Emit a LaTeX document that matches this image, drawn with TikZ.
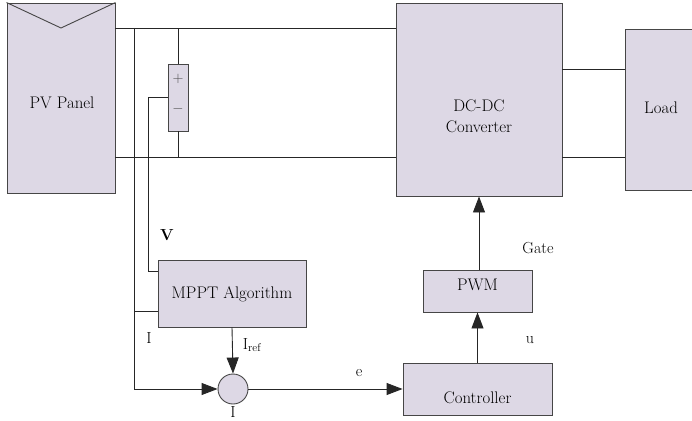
\documentclass[tikz,border=0pt]{standalone}
\usetikzlibrary{arrows.meta}
\definecolor{lila}{RGB}{221,216,229}
\definecolor{borde}{RGB}{70,70,70}
\begin{document}
\begin{tikzpicture}[
  x=1pt, y=-1pt,
  bloque/.style={draw=borde, fill=lila, line width=0.9pt, inner sep=0pt},
  texto/.style={font=\fontsize{16.8}{21}\selectfont, inner sep=0pt, align=center},
  etiq/.style={font=\fontsize{16}{19}\selectfont, inner sep=0pt},
  cable/.style={draw=black!85, line width=0.9pt},
  flecha/.style={cable, -{Triangle[length=16pt,width=12pt]}}
]
\useasboundingbox (0,0) rectangle (692,420);
% bloques
\node[bloque, minimum width=108, minimum height=190] (pv) at (61,98) {};
\node[bloque, minimum width=20, minimum height=67] (sens) at (178,97.5) {};
\node[bloque, minimum width=166, minimum height=193] (dc) at (479,99.5) {};
\node[bloque, minimum width=70, minimum height=161] (load) at (660,109.5) {};
\node[bloque, minimum width=148, minimum height=67] (mppt) at (232,293.5) {};
\node[bloque, minimum width=109, minimum height=42] (pwm) at (477.5,291) {};
\node[bloque, minimum width=149, minimum height=52] (ctrl) at (477.5,389) {};
\node[bloque, circle, minimum size=30] (sum) at (233,389) {};
% textos
\node[texto] (pvtxt) at (62,103) {PV Panel};
\node[texto] (dctxt) at (479,116) {DC-DC\\Converter};
\node[texto] (loadtxt) at (661,108) {Load};
\node[texto] (mppttxt) at (232,294) {MPPT Algorithm};
\node[texto] (pwmtxt) at (477.5,285) {PWM};
\node[texto] (ctrltxt) at (477.5,398) {Controller};
\node[font=\fontsize{14}{16}\selectfont, text=black!70, inner sep=0pt] (mas) at (178,79) {$+$};
\node[font=\fontsize{14}{16}\selectfont, text=black!70, inner sep=0pt] (menos) at (178,109) {$-$};
% panel
\coordinate (tip) at (61,28);
\coordinate (abajo) at (0,157);
\coordinate (nodoI) at (134,28);
\draw[borde, line width=0.9pt] (pv.north west) -- (tip) -- (pv.north east);
% cables
\draw[cable] (pv.east |- tip) -- (dc.west |- tip);
\draw[cable] (pv.east |- abajo) -- (dc.west |- abajo);
\draw[cable] (sens.north) -- (sens.north |- tip);
\draw[cable] (sens.south) -- (sens.south |- abajo);
\draw[cable] (dc.east |- 0,69) -- (load.west |- 0,69);
\draw[cable] (dc.east |- abajo) -- (load.west |- abajo);
\draw[cable] (sens.west) -- ++(-19,0) |- (mppt.west |- 0,271);
\draw[cable] (134,311) -- (mppt.west |- 0,311);
\draw[flecha] (nodoI) |- (sum.west);
\draw[flecha] (mppt.south) -- (sum.north);
\draw[flecha] (sum.east) -- (ctrl.west);
\draw[flecha] (ctrl.north) -- (pwm.south);
\draw[flecha] (pwm.north -| dc.south) -- (dc.south);
% etiquetas
\node[etiq, font=\fontsize{16}{19}\selectfont\bfseries] (V) at (167,235) {V};
\node[etiq] (I1) at (149,338) {I};
\node[etiq] (Iref) at (252,345) {I\textsubscript{ref}};
\node[etiq] (e) at (359,373) {e};
\node[etiq] (I2) at (233,412) {I};
\node[etiq] (gate) at (538,248) {Gate};
\node[etiq] (u) at (530,340) {u};
\end{tikzpicture}
\end{document}
